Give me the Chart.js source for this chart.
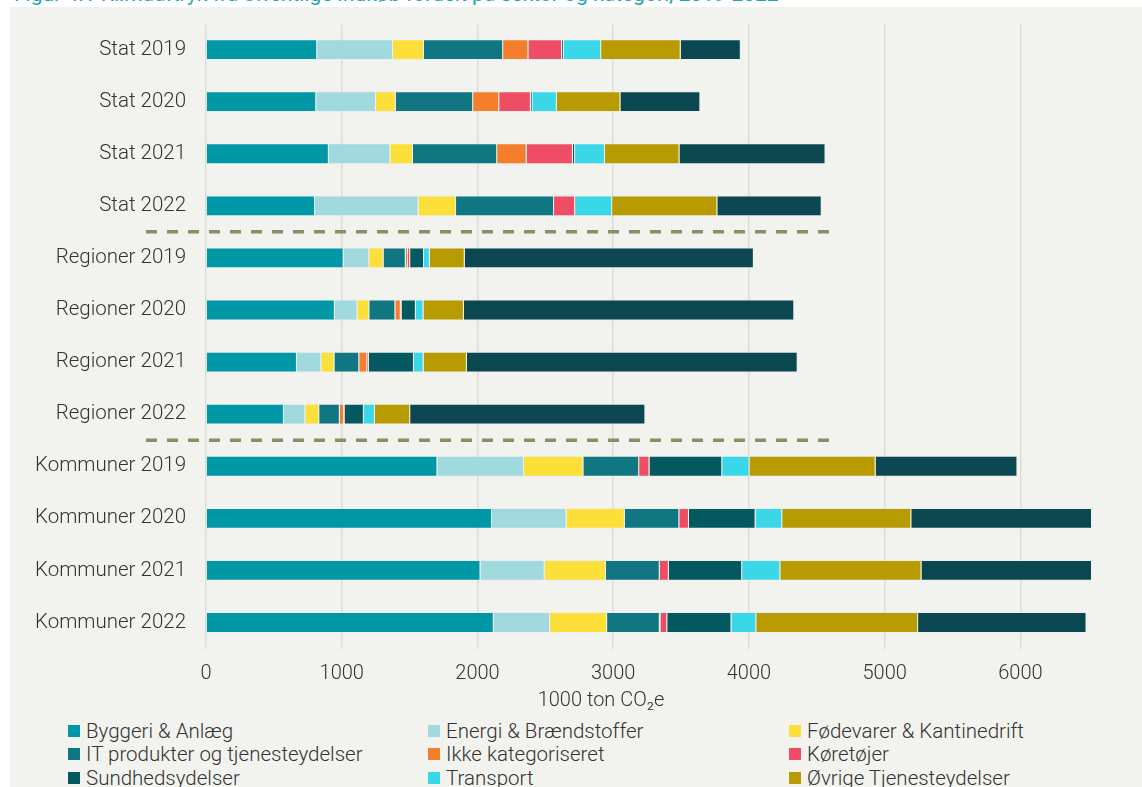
<!DOCTYPE html>
<html lang="da">
<head>
<meta charset="utf-8">
<script src="https://cdn.jsdelivr.net/npm/chart.js@4"></script>
<style>
  html, body { margin: 0; padding: 0; background: #fff; overflow: hidden; width: 1142px; height: 787px; }
  body { position: relative; font-family: Roboto, "Noto Sans", sans-serif; }
  #title { position: absolute; left: 14px; top: -18px; font-size: 21px; color: #1aa5b6; white-space: nowrap; z-index: 0; }
  #panel { position: absolute; left: 10px; top: 7px; width: 1132px; height: 800px; background: #f2f2ee; z-index: 1; }
  #wrap { position: absolute; left: 0; top: 0; width: 1142px; height: 700px; z-index: 2; }
  #xtitle { position: absolute; left: 0; width: 1202px; top: 687px; text-align: center; font-size: 20px; color: #333; z-index: 2; font-weight: 300; }
  #legend { position: absolute; left: 68px; top: 719px; z-index: 2; display: grid; grid-template-columns: 360px 361px 340px; row-gap: 0; }
  .item { display: flex; align-items: center; height: 23.5px; font-size: 20.5px; color: #333; font-weight: 300; white-space: nowrap; }
  .box { width: 12px; height: 12px; margin-right: 6px; flex: none; }
</style>
</head>
<body>
<div id="title">Figur 4.1 Klimaaftryk fra offentlige indkøb fordelt på sektor og kategori, 2019-2022</div>
<div id="panel"></div>
<div id="wrap"><canvas id="chart"></canvas></div>
<div id="xtitle">1000 ton CO₂e</div>
<div id="legend"></div>
<script>
// kategorier (y-aksen)
const categories = ['Stat 2019', 'Stat 2020', 'Stat 2021', 'Stat 2022',
  'Regioner 2019', 'Regioner 2020', 'Regioner 2021', 'Regioner 2022',
  'Kommuner 2019', 'Kommuner 2020', 'Kommuner 2021', 'Kommuner 2022'];

// værdier pr. serie, 1000 ton CO2e
const byggeri     = [819, 812, 905, 803, 1014, 949, 670, 574, 1705, 2107, 2022, 2120];
const energi      = [558, 440, 453, 763, 189, 167, 180, 158, 638, 549, 473, 415];
const fodevarer   = [229, 146, 167, 276, 105, 87, 96, 102, 437, 429, 451, 420];
const itProdukter = [583, 570, 620, 722, 164, 192, 183, 152, 411, 402, 397, 388];
const ikkeKat     = [186, 192, 217, 0, 16, 40, 59, 31, 0, 0, 0, 5];
const koretojer   = [248, 233, 341, 155, 16, 6, 12, 6, 76, 71, 67, 50];
const sundhed     = [12, 12, 16, 6, 102, 105, 332, 140, 536, 491, 540, 473];
const transport   = [276, 180, 220, 267, 43, 56, 71, 81, 201, 196, 281, 183];
const ovrigeTjen  = [586, 468, 549, 775, 257, 298, 319, 260, 929, 951, 1040, 1192];
const ovrigeVarer = [443, 589, 1076, 769, 2130, 2434, 2437, 1733, 1045, 1360, 1290, 1241];

const xTicks = [0, 1000, 2000, 3000, 4000, 5000, 6000];
const xMax = 6520;

const series = [
  { label: 'Byggeri & Anlæg', data: byggeri, color: '#0097a7' },
  { label: 'Energi & Brændstoffer', data: energi, color: '#a0d9de' },
  { label: 'Fødevarer & Kantinedrift', data: fodevarer, color: '#fddf3a' },
  { label: 'IT produkter og tjenesteydelser', data: itProdukter, color: '#107782' },
  { label: 'Ikke kategoriseret', data: ikkeKat, color: '#f47e2b' },
  { label: 'Køretøjer', data: koretojer, color: '#ee4d65' },
  { label: 'Sundhedsydelser', data: sundhed, color: '#03595f' },
  { label: 'Transport', data: transport, color: '#3ad7e8' },
  { label: 'Øvrige Tjenesteydelser', data: ovrigeTjen, color: '#b89b00' },
  { label: 'Øvrige Varer', data: ovrigeVarer, color: '#0b4750' }
];

// legende som html, tre kolonner
const legend = document.getElementById('legend');
series.forEach(s => {
  const el = document.createElement('div');
  el.className = 'item';
  el.innerHTML = '<span class="box" style="background:' + s.color + '"></span>' + s.label;
  legend.appendChild(el);
});

// stiplede skillelinjer mellem Stat / Regioner / Kommuner
const separators = {
  id: 'separators',
  afterDatasetsDraw(chart) {
    const { ctx, scales: { x, y } } = chart;
    ctx.save();
    ctx.strokeStyle = '#8c8c6a';
    ctx.lineWidth = 3.5;
    ctx.setLineDash([11, 10]);
    [3, 7].forEach(i => {
      const yy = (y.getPixelForValue(i) + y.getPixelForValue(i + 1)) / 2;
      ctx.beginPath();
      ctx.moveTo(x.left - 60, yy);
      ctx.lineTo(x.getPixelForValue(4600), yy);
      ctx.stroke();
    });
    ctx.restore();
  }
};

Chart.defaults.font.family = 'Roboto';
Chart.defaults.font.size = 20;
Chart.defaults.color = '#333';

new Chart(document.getElementById('chart'), {
  type: 'bar',
  data: {
    labels: categories,
    datasets: series.map(s => ({
      label: s.label,
      data: s.data,
      backgroundColor: s.color,
      borderColor: 'rgba(230,236,236,0.55)',
      borderWidth: 1,
      barPercentage: 0.8,
      categoryPercentage: 0.5
    }))
  },
  options: {
    indexAxis: 'y',
    responsive: true,
    maintainAspectRatio: false,
    animation: false,
    layout: { padding: { top: 23.5, right: 51, bottom: 11.5, left: 0 } },
    scales: {
      x: {
        stacked: true,
        min: 0,
        max: xMax,
        afterBuildTicks: (scale) => { scale.ticks = xTicks.map(v => ({ value: v })); },
        afterFit: (scale) => { scale.height = 40; },
        ticks: { padding: 13, font: { size: 20, weight: 300 }, callback: (v) => String(v) },
        grid: { color: '#dcdcd7', lineWidth: 1.5, drawTicks: false },
        border: { display: false }
      },
      y: {
        stacked: true,
        afterFit: (scale) => {
          scale.width = 206;
          scale.paddingTop = 0;
          scale.paddingBottom = 0;
        },
        ticks: { padding: 20, font: { size: 20.5, weight: 300 } },
        grid: { display: false, drawTicks: false },
        border: { display: false }
      }
    },
    plugins: {
      legend: { display: false },
      tooltip: { enabled: false }
    }
  },
  plugins: [separators]
});
</script>
</body>
</html>
